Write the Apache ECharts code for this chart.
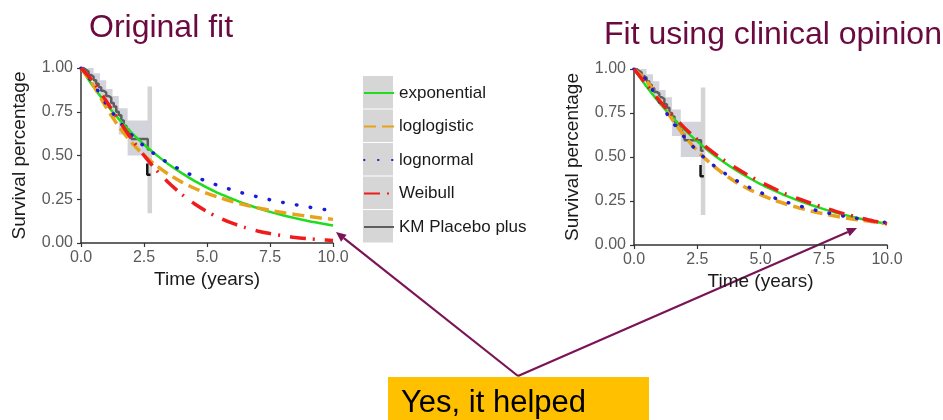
<!DOCTYPE html>
<html><head><meta charset="utf-8">
<script src="https://cdn.jsdelivr.net/npm/echarts@6/dist/echarts.min.js"></script>
<style>html,body{margin:0;padding:0;background:#fff}#c{width:943px;height:420px}</style>
</head><body><div id="c"></div>
<script>
// ---------- data ----------
const fitTimes = [0,0.5,1,1.5,2,2.5,3,3.5,4,4.5,5,5.5,6,6.5,7,7.5,8,8.5,9,9.5,10];

// Original fit (left panel)
const origExponential = [1.000,0.891,0.795,0.708,0.631,0.563,0.502,0.447,0.399,0.355,0.317,0.282,0.252,0.224,0.200,0.178,0.159,0.142,0.126,0.113,0.100];
const origLoglogistic = [1.000,0.898,0.775,0.666,0.576,0.501,0.441,0.390,0.348,0.313,0.284,0.259,0.237,0.218,0.201,0.187,0.174,0.163,0.153,0.143,0.135];
const origLognormal   = [1.000,0.909,0.794,0.698,0.619,0.554,0.500,0.454,0.415,0.381,0.352,0.326,0.303,0.282,0.264,0.247,0.232,0.219,0.206,0.195,0.185];
const origWeibull     = [1.000,0.919,0.812,0.702,0.596,0.501,0.415,0.341,0.278,0.224,0.180,0.143,0.113,0.089,0.069,0.054,0.042,0.032,0.025,0.019,0.014];

// Fit using clinical opinion (right panel)
const clinExponential = [1.000,0.899,0.809,0.728,0.654,0.589,0.529,0.476,0.428,0.385,0.346,0.312,0.280,0.252,0.227,0.204,0.183,0.165,0.148,0.133,0.120];
const clinLoglogistic = [1.000,0.931,0.824,0.716,0.619,0.536,0.467,0.409,0.360,0.320,0.286,0.257,0.233,0.212,0.193,0.177,0.163,0.151,0.140,0.130,0.122];
const clinLognormal   = [1.000,0.934,0.815,0.704,0.611,0.534,0.469,0.416,0.370,0.331,0.298,0.270,0.245,0.223,0.204,0.187,0.172,0.159,0.147,0.137,0.127];
const clinWeibull     = [1.000,0.910,0.820,0.740,0.665,0.600,0.540,0.487,0.440,0.397,0.358,0.323,0.291,0.263,0.237,0.213,0.190,0.170,0.152,0.135,0.120];

// Kaplan-Meier (Placebo plus)
const kmTime = [0,0.1,0.2,0.3,0.4,0.5,0.6,0.7,0.8,0.9,1.0,1.1,1.2,1.3,1.4,1.5,1.6,1.7,1.8,1.9,2.0,2.65,2.75];
const kmSurv = [1.00,0.99,0.98,0.96,0.95,0.93,0.91,0.89,0.87,0.86,0.84,0.83,0.80,0.78,0.75,0.73,0.70,0.67,0.65,0.63,0.595,0.535,0.535];
// KM confidence band
const ciTime  = [0,0.25,0.5,0.75,1.0,1.25,1.5,1.85,2.75];
const ciLower = [1.00,0.95,0.90,0.84,0.79,0.73,0.62,0.50,0.50];
const ciUpper = [1.00,1.00,0.97,0.93,0.88,0.84,0.77,0.70,0.70];
// vertical CI segment at end of follow-up
const ciEndTime = [2.73,2.73];
const ciEndSurv = [0.17,0.895];
// censor mark
const censorTime = [2.63,2.63,2.76];
const censorSurv = [0.455,0.39,0.39];

const xTicks = [0,2.5,5,7.5,10];
const yTicks = [0,0.25,0.5,0.75,1];
const legendNames = ['exponential','loglogistic','lognormal','Weibull','KM Placebo plus'];

// ---------- build ----------
const zip = (xs, ys) => xs.map((x,i)=>[x, ys[i]]);
const FONT = 'Liberation Sans, Arial, sans-serif';
const styles = {
  exponential: {color:'#1fdc1f', width:2.5, type:'solid'},
  loglogistic: {color:'#e9a21c', width:3.5, type:[12,6]},
  lognormal:   {color:'#1c1cd6', width:3.5, type:[0.5,13.5], cap:'round'},
  Weibull:     {color:'#ee1c1c', width:3.5, type:[16,7,2,10]}
};

function bandRender(params, api){
  const up = [], lo = [];
  for (let i=0;i<ciTime.length-1;i++){
    up.push(api.coord([ciTime[i], ciUpper[i]]));
    up.push(api.coord([ciTime[i+1], ciUpper[i]]));
    lo.push(api.coord([ciTime[i], ciLower[i]]));
    lo.push(api.coord([ciTime[i+1], ciLower[i]]));
  }
  return {type:'polygon', shape:{points: up.concat(lo.reverse())},
    style:{fill:'rgba(168,168,184,0.5)'}};
}

function panelSeries(idx, fits){
  const s = [];
  const base = {xAxisIndex:idx, yAxisIndex:idx, showSymbol:false, symbol:'none', silent:true, animation:false};
  s.push({type:'custom', name:'ciBand'+idx, xAxisIndex:idx, yAxisIndex:idx, silent:true,
    renderItem: bandRender, data:[[ciTime[0], ciUpper[0]]], clip:true});
  s.push(Object.assign({}, base, {type:'line', name:'ciEnd'+idx, data: zip(ciEndTime, ciEndSurv),
    lineStyle:{color:'#d4d4d4', width:4.5}}));
  s.push(Object.assign({}, base, {type:'line', name:'KM Placebo plus', step:'end', data: zip(kmTime, kmSurv),
    lineStyle:{color:'#5e5e5e', width:2.5}, itemStyle:{color:'#5e5e5e'}}));
  s.push(Object.assign({}, base, {type:'line', name:'censor'+idx, data: zip(censorTime, censorSurv),
    lineStyle:{color:'#151515', width:2.5}}));
  ['exponential','loglogistic','lognormal','Weibull'].forEach(n=>{
    const st = styles[n];
    s.push(Object.assign({}, base, {type:'line', name:n, smooth:0.3, data: zip(fitTimes, fits[n]),
      lineStyle:{color:st.color, width:st.width, type:st.type, cap:st.cap||'butt'}, itemStyle:{color:st.color}}));
  });
  return s;
}

function xAxis(idx){
  return {gridIndex:idx, type:'value', min:0, max:10, interval:2.5,
    axisLine:{lineStyle:{color:'#333', width:1.5}},
    axisTick:{length:4, lineStyle:{color:'#333', width:1.2}},
    axisLabel:{formatter:v=>v.toFixed(1), color:'#5a5a5a', fontSize:16, margin:7, fontFamily:FONT},
    splitLine:{show:false},
    name:'Time (years)', nameLocation:'middle', nameGap:27,
    nameTextStyle:{fontSize:19, color:'#1a1a1a', fontFamily:FONT}};
}
function yAxis(idx){
  return {gridIndex:idx, type:'value', min:0, max:1, interval:0.25,
    axisLine:{show:true, lineStyle:{color:'#333', width:1.5}},
    axisTick:{show:true, length:4, lineStyle:{color:'#333', width:1.2}},
    axisLabel:{formatter:v=>v.toFixed(2), color:'#5a5a5a', fontSize:16, margin:8, fontFamily:FONT},
    splitLine:{show:false},
    name:'Survival percentage', nameLocation:'middle', nameGap:52,
    nameTextStyle:{fontSize:19, color:'#1a1a1a', fontFamily:FONT}};
}

const legendBoxes = [];
for (let i=0;i<5;i++){
  legendBoxes.push({type:'rect', left:363, top:76+i*33.5, shape:{width:30, height:32.5}, style:{fill:'#d6d6d6'}, z:-1});
}

function arrow(ax, ay, bx, by){
  const dx=bx-ax, dy=by-ay, L=Math.hypot(dx,dy), ux=dx/L, uy=dy/L;
  const hl=10, hw=4.5, cx=bx-ux*hl, cy=by-uy*hl, nx=-uy, ny=ux;
  return [
    {type:'line', shape:{x1:ax,y1:ay,x2:cx,y2:cy}, style:{stroke:'#7a1456', lineWidth:2.2}},
    {type:'polygon', shape:{points:[[bx,by],[cx+nx*hw,cy+ny*hw],[cx-nx*hw,cy-ny*hw]]}, style:{fill:'#7a1456'}}
  ];
}

const chart = echarts.init(document.getElementById('c'), null, {renderer:'canvas'});
chart.setOption({
  backgroundColor:'#ffffff',
  animation:false,
  grid:[
    {left:81, top:68, width:252, height:175},
    {left:634, top:69, width:253, height:176}
  ],
  xAxis:[xAxis(0), xAxis(1)],
  yAxis:[yAxis(0), yAxis(1)],
  legend:{orient:'vertical', left:363, top:84.5, itemWidth:30, itemHeight:14, itemGap:16.5, padding:0,
    data:legendNames, selectedMode:false, itemStyle:{opacity:0},
    textStyle:{fontSize:17, color:'#1a1a1a', fontFamily:FONT}},
  series:[].concat(
    panelSeries(0, {exponential:origExponential, loglogistic:origLoglogistic, lognormal:origLognormal, Weibull:origWeibull}),
    panelSeries(1, {exponential:clinExponential, loglogistic:clinLoglogistic, lognormal:clinLognormal, Weibull:clinWeibull})
  ),
  graphic:[].concat(legendBoxes, [
    {type:'text', left:89, top:12, style:{text:'Original fit', font:'32px '+FONT, fill:'#6b0a40'}},
    {type:'text', left:604, top:19, style:{text:'Fit using clinical opinion', font:'32px '+FONT, fill:'#6b0a40'}},
    {type:'rect', left:388, top:377, shape:{width:261, height:43}, style:{fill:'#ffc000'}},
    {type:'text', left:401, top:388, style:{text:'Yes, it helped', font:'31px '+FONT, fill:'#000'}}
  ], arrow(518,376,336,232), arrow(518,376,857,228))
});
</script></body></html>
